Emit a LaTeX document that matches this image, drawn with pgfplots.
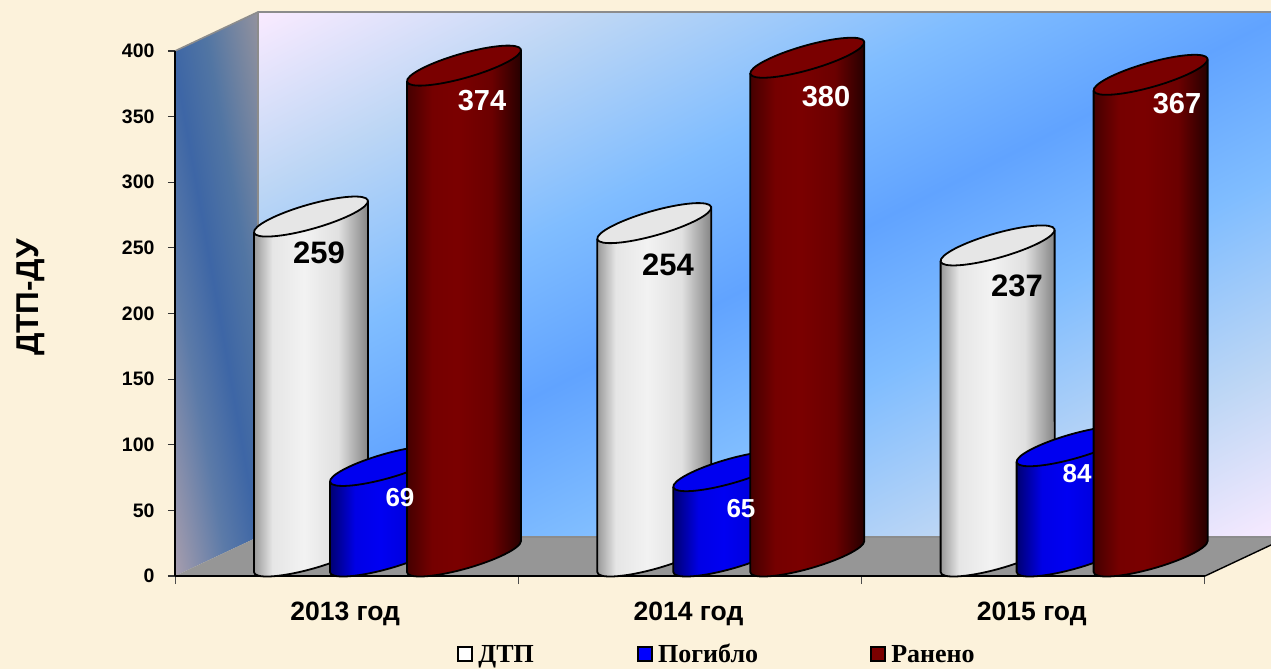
\documentclass[border=0pt]{standalone}
\usepackage{pgfplots}
\usepackage{pgfplotstable}
\usepackage{fontspec}
\pgfplotsset{compat=1.18}
\setmainfont{Liberation Sans}
\newfontfamily\legendfont{Liberation Serif}
\newcommand{\fs}[1]{\fontsize{#1}{#1}\selectfont}

\definecolor{cream}{HTML}{FCF2DB}
\definecolor{floorgray}{HTML}{969696}
\definecolor{edgegray}{HTML}{8C8C8C}
\definecolor{topw}{HTML}{E6E6E6}
\definecolor{topb}{HTML}{0000F0}
\definecolor{topr}{HTML}{7A0000}

\pgfdeclareverticalshading{wallv}{100bp}{
  rgb(0bp)=(.98,.92,1); rgb(33.33bp)=(.98,.92,1); rgb(39bp)=(.74,.84,.96);
  rgb(45bp)=(.50,.74,1); rgb(50bp)=(.38,.64,1); rgb(55bp)=(.50,.74,1);
  rgb(61bp)=(.74,.84,.96); rgb(66.67bp)=(.98,.92,1); rgb(100bp)=(.98,.92,1)}
\pgfdeclareverticalshading{sidev}{100bp}{
  rgb(0bp)=(.66,.62,.68); rgb(42.5bp)=(.66,.62,.68); rgb(47bp)=(.36,.48,.66); rgb(50bp)=(.24,.40,.65);
  rgb(53bp)=(.32,.46,.64); rgb(57.5bp)=(.57,.57,.62); rgb(100bp)=(.57,.57,.62)}
\pgfdeclarehorizontalshading{cylw}{100bp}{
  rgb(0bp)=(.60,.60,.60); rgb(25bp)=(.60,.60,.60); rgb(33bp)=(.90,.90,.90);
  rgb(47bp)=(.95,.95,.95); rgb(62bp)=(.88,.88,.88); rgb(75bp)=(.52,.52,.52); rgb(100bp)=(.52,.52,.52)}
\pgfdeclarehorizontalshading{cylb}{100bp}{
  rgb(0bp)=(0,0,.45); rgb(25bp)=(0,0,.45); rgb(36bp)=(0,0,.90);
  rgb(47bp)=(0,0,.95); rgb(62bp)=(0,0,.85); rgb(75bp)=(0,0,.35); rgb(100bp)=(0,0,.35)}
\pgfdeclarehorizontalshading{cylr}{100bp}{
  rgb(0bp)=(.27,0,0); rgb(25bp)=(.27,0,0); rgb(36bp)=(.46,0,0);
  rgb(47bp)=(.48,0,0); rgb(62bp)=(.42,0,0); rgb(75bp)=(.15,0,0); rgb(100bp)=(.15,0,0)}

% one cylinder, its height taken from the plotted value (\val); #3 = offset in pt
\newcommand{\cylbody}[1]{%
  \pgfpathmoveto{\pgfpoint{\dimexpr#1pt-57pt}{4pt}}%
  \pgfpathlineto{\pgfpoint{\dimexpr#1pt-57pt}{\dimexpr4pt-\cylh pt}}%
  \pgfpatharcaxes{176.64}{356.64}{\pgfqpoint{56.93pt}{16.22pt}}{\pgfqpoint{-3.34pt}{11.73pt}}%
  \pgfpathlineto{\pgfpoint{\dimexpr#1pt+57pt}{35pt}}}
\newcommand{\cyl}[3]{%
  \pgfmathsetmacro\cylh{\val*1.3125}%
  \begin{pgfscope}
    \pgfsetlinewidth{1.8pt}\pgfsetroundjoin
    \pgfsetstrokecolor{black}
    \cylbody{#3}\pgfpathclose
    \pgfshadepath{#1}{0}\pgfusepath{discard}
    \cylbody{#3}\pgfusepath{stroke}
    \pgfsetfillcolor{#2}
    \pgfpathellipse{\pgfpoint{#3pt}{19.5pt}}{\pgfqpoint{56.93pt}{16.22pt}}{\pgfqpoint{-3.34pt}{11.73pt}}%
    \pgfusepath{fill,stroke}
  \end{pgfscope}}
\pgfdeclareplotmark{cylW}{\cyl{cylw}{topw}{-35.7}}
\pgfdeclareplotmark{cylB}{\cyl{cylb}{topb}{40.3}}
\pgfdeclareplotmark{cylR}{\cyl{cylr}{topr}{117.3}}

% x y label-offset-x label-offset-y
\pgfplotstableread{
x y lx ly
0 259 -27.7 -17
1 254 -22.0 -22
2 237 -16.3 -21
}\dtp
\pgfplotstableread{
x y lx ly
0 69 53.3 -12
1 65 51.0 -18
2 84 43.7 -8
}\pogiblo
\pgfplotstableread{
x y lx ly
0 374 135.3 -15
1 380 136.0 -19
2 367 143.7 -9
}\raneno

\pgfplotsset{
  cylplot/.style={scatter,only marks,mark=#1,
    visualization depends on={rawy \as \val},
    scatter/@pre marker code/.code={\scope},
    scatter/@post marker code/.code={\endscope}},
  labplot/.style 2 args={forget plot,only marks,mark=none,
    visualization depends on={\thisrow{lx} \as \lx},
    visualization depends on={\thisrow{ly} \as \ly},
    nodes near coords,
    every node near coord/.append style={anchor=center,xshift=\lx pt,yshift=\ly pt,
      text=#1,font=\bfseries\fs{#2},inner sep=0pt}},
  sq/.style={legend image code/.code={\draw[black,line width=2.2pt,fill=#1] (0pt,-7pt) rectangle (14pt,7pt);}}
}

\begin{document}
\begin{tikzpicture}[x=1pt,y=1pt]
\path[use as bounding box] (0,0) rectangle (1271,669);
\clip (0,0) rectangle (1271,669);
\fill[cream] (0,0) rectangle (1271,669);
% walls and floor; y = 669 - pixel row
\begin{scope}
  \clip (258,132) rectangle (1288,657);
  \shade[shading=wallv,shading angle=27] (773,394.5) +(-702,-702) rectangle +(702,702);
\end{scope}
\begin{scope}
  \clip (175,93) -- (258,132) -- (258,657) -- (175,618) -- cycle;
  \shade[shading=sidev,shading angle=-80] (216,371) +(-300,-300) rectangle +(300,300);
\end{scope}
\fill[floorgray] (175,93) -- (258,132) -- (1288,132) -- (1205,93) -- cycle;
\draw[edgegray,line width=1.6pt] (175,618) -- (258,657) -- (1288,657);
\draw[edgegray,line width=1.6pt] (258,657) -- (258,132) -- (1288,132);
\draw[black,line width=1.4pt] (175,93) -- (1205,93) -- (1288,132);

\begin{axis}[
  at={(175pt,93pt)},anchor=south west,
  scale only axis,width=1030pt,height=525pt,
  xmin=-0.5,xmax=2.5,ymin=0,ymax=400,
  clip=false,
  axis lines=left,
  axis line style={-,black,line width=1.6pt},
  tick align=outside,
  major y tick style={black!80,line width=1.1pt},
  major x tick style={draw=none},
  minor x tick style={black!70,line width=1pt},
  ytick={0,50,...,400},
  y tick label style={font=\bfseries\fs{19.5},xshift=-10pt},
  /pgf/number format/assume math mode=true,
  xtick={0,1,2},xticklabels={2013 год,2014 год,2015 год},
  minor xtick={-0.5,0.5,1.5,2.5},
  major tick length=7pt,
  x tick label style={font=\bfseries\fs{26.5},yshift=-15pt,xshift=-1.5pt},
  minor tick length=8pt,
  ylabel={ДТП-ДУ},
  ylabel style={at={(axis description cs:-0.1400,0.531)},anchor=center,font=\bfseries\fs{31.5}},
  legend columns=3,
  legend style={at={(rel axis cs:0.5,0)},anchor=north,yshift=-66pt,xshift=27pt,draw=none,fill=none,
    font=\legendfont\bfseries\fs{26},
    /tikz/every odd column/.append style={column sep=3pt},
    /tikz/column 2/.style={column sep=101pt},
    /tikz/column 4/.style={column sep=110pt},inner sep=0pt},
]
\addplot[cylplot=cylW,sq=white] table[x=x,y=y] {\dtp};
\addlegendentry{ДТП}
\addplot[cylplot=cylB,sq=blue] table[x=x,y=y] {\pogiblo};
\addlegendentry{Погибло}
\addplot[cylplot=cylR,sq=topr] table[x=x,y=y] {\raneno};
\addlegendentry{Ранено}
\addplot[labplot={black}{31}] table[x=x,y=y] {\dtp};
\addplot[labplot={white}{26}] table[x=x,y=y] {\pogiblo};
\addplot[labplot={white}{29}] table[x=x,y=y] {\raneno};
\end{axis}
\end{tikzpicture}
\end{document}
